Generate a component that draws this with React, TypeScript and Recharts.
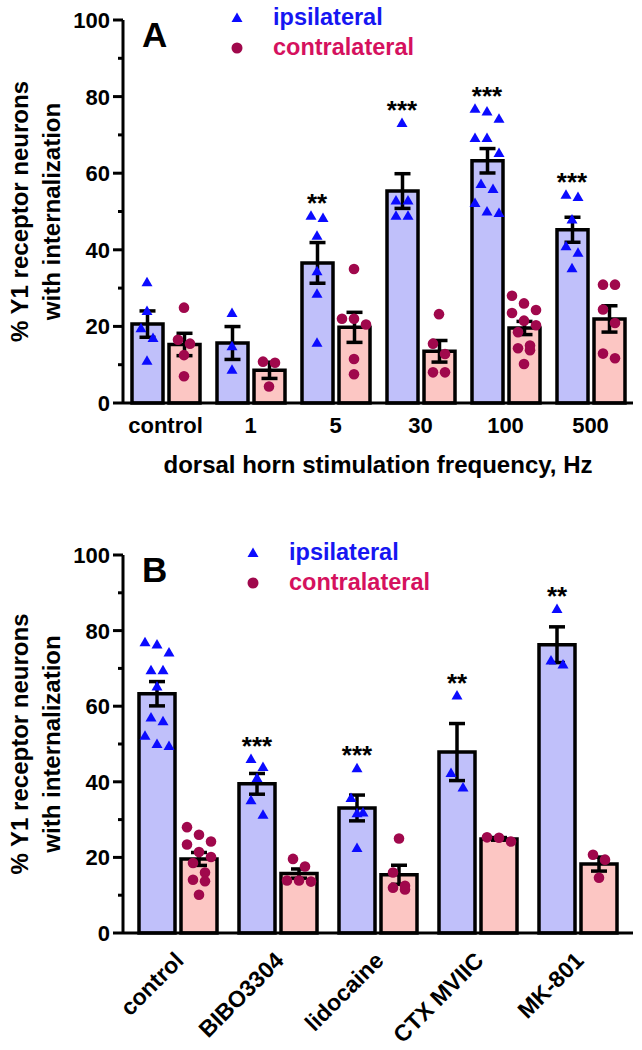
import React from 'react';
import { ComposedChart, Bar, Scatter, XAxis, YAxis, ErrorBar, Customized } from 'recharts';

const FONT = '"Liberation Sans", Arial, Helvetica, sans-serif';
const IPSI_FILL = '#c0c0fa';
const CONTRA_FILL = '#fcc6c3';
const IPSI_MARK = '#0b0bff';
const CONTRA_MARK = '#a0084c';
const IPSI_TEXT = '#1616f2';
const CONTRA_TEXT = '#d5115e';

// panel A: stimulation frequency
const freqLabels = ['control', '1', '5', '30', '100', '500'];
const freqIpsi = [
  [31.5, 24, 19.5, 17, 11],
  [23.5, 14.8, 8.7],
  [48.9, 48.3, 43.7, 34.4, 28.5, 15.7],
  [73.1, 52.9, 52.9, 48.9, 48.9],
  [76.8, 76.1, 74.2, 69.2, 69.2, 65.3, 57.2, 55.9, 52.2, 50, 49.6],
  [54.4, 53.8, 47.9, 40.9, 39.2, 35.2],
];
const freqContra = [
  [24.9, 16.5, 15.5, 12.5, 7],
  [10.8, 10.5, 4.3],
  [35, 22, 22, 20.5, 11.5, 7.5],
  [23.2, 15.5, 12.8, 8, 8],
  [28, 26, 24.3, 23.5, 21.5, 20.3, 18.5, 15, 14.3, 13.8, 10.2],
  [30.9, 30.9, 24.4, 20.9, 12.9, 11.7],
];
const freqStars = ['', '', '**', '***', '***', '***'];

// panel B: drugs
const drugLabels = ['control', 'BIBO3304', 'lidocaine', 'CTX MVIIC', 'MK-801'];
const drugIpsi = [
  [76.9, 76.3, 74.2, 69.5, 69.5, 65.2, 57, 56, 52.2, 50, 49.5],
  [46, 43.9, 41, 35.1, 31.3],
  [43.6, 35.7, 31.9, 31.7, 22.5],
  [62.8, 42.3, 38.5],
  [85.7, 72.1, 71],
];
const drugContra = [
  [28, 26, 24.2, 23.4, 21.4, 20.1, 18.5, 16, 14.1, 13.7, 10.1],
  [19.6, 17.6, 13.9, 13.9, 13.6],
  [25, 16, 12.5, 12, 11.5],
  [25.3, 25.2, 24.2],
  [20.7, 19.4, 14.6],
];
const drugStars = ['', '***', '***', '**', '**'];

const yTicks = [0, 10, 20, 30, 40, 50, 60, 70, 80, 90, 100];

const CHART_W = 642;
const PLOT_LEFT = 123;
const PLOT_RIGHT = 633;
const TOP = 20;

const mean = (a: number[]) => a.reduce((s, v) => s + v, 0) / a.length;
const sem = (a: number[]) => {
  const m = mean(a);
  const sd = Math.sqrt(a.reduce((s, v) => s + (v - m) * (v - m), 0) / (a.length - 1));
  return sd / Math.sqrt(a.length);
};

// spread points with similar values side by side, like Prism's scatter
function swarm(values: number[], center: number, bandPx: number) {
  const spacing = 12;
  const tol = 4;
  const sorted = [...values].sort((a, b) => b - a);
  const out: { x: number; y: number }[] = [];
  let i = 0;
  while (i < sorted.length) {
    let j = i;
    while (j + 1 < sorted.length && sorted[i] - sorted[j + 1] < tol) j++;
    const n = j - i + 1;
    for (let k = 0; k < n; k++) {
      out.push({ x: center + ((k - (n - 1) / 2) * spacing) / bandPx, y: sorted[i + k] });
    }
    i = j + 1;
  }
  return out;
}

const Triangle = (props: any) => {
  const { cx, cy } = props;
  return <polygon points={`${cx},${cy - 5.5} ${cx - 5.5},${cy + 4} ${cx + 5.5},${cy + 4}`} fill={IPSI_MARK} />;
};

const Dot = (props: any) => <circle cx={props.cx} cy={props.cy} r={5.3} fill={CONTRA_MARK} />;

const Stars = (props: any) => (
  <text
    x={props.cx}
    y={props.cy + 14}
    textAnchor="middle"
    fontSize={26}
    fontWeight="bold"
    fontFamily={FONT}
    fill="#000"
  >
    {props.payload.label}
  </text>
);

const YTick = (props: any) => {
  const { x, y, payload } = props;
  const major = payload.value % 20 === 0;
  return (
    <g>
      <line x1={x - (major ? 10 : 5)} x2={x} y1={y} y2={y} stroke="#000" strokeWidth={3} />
      {major && (
        <text x={x - 13} y={y + 8} textAnchor="end" fontSize={22} fontWeight="bold" fontFamily={FONT} fill="#000">
          {payload.value}
        </text>
      )}
    </g>
  );
};

const FlatTick = (props: any) => (
  <text x={props.x} y={props.y + 30} textAnchor="middle" fontSize={22} fontWeight="bold" fontFamily={FONT} fill="#000">
    {props.payload.value}
  </text>
);

const SlantTick = (props: any) => {
  const x = props.x + 7;
  const y = props.y + 29;
  return (
    <text
      x={x}
      y={y}
      textAnchor="end"
      transform={`rotate(-45, ${x}, ${y})`}
      fontSize={23}
      fontWeight="bold"
      fontFamily={FONT}
      fill="#000"
    >
      {props.payload.value}
    </text>
  );
};

interface PanelProps {
  letter: string;
  labels: string[];
  ipsi: number[][];
  contra: number[][];
  stars: string[];
  height: number;
  axisHeight: number;
  barSize: number;
  barGap: number;
  pad: number;
  slanted?: boolean;
  legendX: number;
  xTitle?: string;
}

function Panel({ letter, labels, ipsi, contra, stars, height, axisHeight, barSize, barGap, pad, slanted, legendX, xTitle }: PanelProps) {
  const n = labels.length;
  const band = (PLOT_RIGHT - PLOT_LEFT - pad * 2) / n;
  const shift = (barSize + barGap) / 2 / band;
  const rows = labels.map((name, i) => ({
    name,
    ipsi: mean(ipsi[i]),
    contra: mean(contra[i]),
    ipsiErr: sem(ipsi[i]),
    contraErr: sem(contra[i]),
  }));
  const ipsiPts = ipsi.flatMap((v, i) => swarm(v, i + 0.5 - shift, band));
  const contraPts = contra.flatMap((v, i) => swarm(v, i + 0.5 + shift, band));
  const starPts = stars
    .map((label, i) => ({ x: i + 0.5 - shift, y: Math.max(...ipsi[i]) + 4.7, label }))
    .filter((d) => d.label);
  const plotBottom = height - axisHeight;
  const midY = (TOP + plotBottom) / 2;
  const padding = { left: pad, right: pad };
  const txt = { fontFamily: FONT, fontWeight: 'bold' as const };

  const overlay = (
    <g>
      <text x={142} y={47} fontSize={35} fill="#000" {...txt}>{letter}</text>
      <polygon points={`${legendX},${12.5} ${legendX - 5.5},${22} ${legendX + 5.5},${22}`} fill={IPSI_MARK} />
      <circle cx={legendX} cy={48} r={5.5} fill={CONTRA_MARK} />
      <text x={legendX + 36} y={25} fontSize={23.5} fill={IPSI_TEXT} {...txt}>ipsilateral</text>
      <text x={legendX + 36} y={55} fontSize={23.5} fill={CONTRA_TEXT} {...txt}>contralateral</text>
      <text x={28} y={midY} transform={`rotate(-90, 28, ${midY})`} textAnchor="middle" fontSize={24} fill="#000" {...txt}>
        % Y1 receptor neurons
      </text>
      <text x={60} y={midY} transform={`rotate(-90, 60, ${midY})`} textAnchor="middle" fontSize={24} fill="#000" {...txt}>
        with internalization
      </text>
      {xTitle && (
        <text x={(PLOT_LEFT + PLOT_RIGHT) / 2} y={plotBottom + 70} textAnchor="middle" fontSize={24} fill="#000" {...txt}>
          {xTitle}
        </text>
      )}
    </g>
  );

  return (
    <ComposedChart
      width={CHART_W}
      height={height}
      data={rows}
      barGap={barGap}
      barSize={barSize}
      margin={{ top: TOP, right: CHART_W - PLOT_RIGHT, left: 0, bottom: 0 }}
    >
      <XAxis
        xAxisId="cat"
        dataKey="name"
        height={axisHeight}
        padding={padding}
        axisLine={{ stroke: '#000', strokeWidth: 3 }}
        tickLine={false}
        tickSize={0}
        tickMargin={0}
        interval={0}
        tick={slanted ? <SlantTick /> : <FlatTick />}
      />
      <XAxis xAxisId="err" dataKey="name" hide padding={padding} />
      <XAxis xAxisId="num" type="number" dataKey="x" domain={[0, n]} hide allowDataOverflow padding={padding} />
      <YAxis
        width={PLOT_LEFT}
        domain={[0, 100]}
        ticks={yTicks}
        interval={0}
        axisLine={{ stroke: '#000', strokeWidth: 3 }}
        tickLine={false}
        tickSize={0}
        tickMargin={0}
        tick={<YTick />}
      />
      <Bar xAxisId="cat" dataKey="ipsi" fill={IPSI_FILL} stroke="#000" strokeWidth={3.5} isAnimationActive={false} />
      <Bar xAxisId="cat" dataKey="contra" fill={CONTRA_FILL} stroke="#000" strokeWidth={3.5} isAnimationActive={false} />
      <Scatter xAxisId="num" data={ipsiPts} dataKey="y" shape={<Triangle />} isAnimationActive={false} />
      <Scatter xAxisId="num" data={contraPts} dataKey="y" shape={<Dot />} isAnimationActive={false} />
      <Bar xAxisId="err" dataKey="ipsi" fill="none" isAnimationActive={false}>
        <ErrorBar dataKey="ipsiErr" width={8} strokeWidth={3.5} stroke="#000" direction="y" />
      </Bar>
      <Bar xAxisId="err" dataKey="contra" fill="none" isAnimationActive={false}>
        <ErrorBar dataKey="contraErr" width={8} strokeWidth={3.5} stroke="#000" direction="y" />
      </Bar>
      <Scatter xAxisId="num" data={starPts} dataKey="y" shape={<Stars />} isAnimationActive={false} />
      <Customized component={() => overlay} />
    </ComposedChart>
  );
}

export default function App() {
  return (
    <div style={{ position: 'absolute', left: 0, top: 0, width: 642, height: 1050, background: '#fff' }}>
      <div style={{ position: 'absolute', left: 0, top: 0 }}>
        <Panel
          letter="A"
          labels={freqLabels}
          ipsi={freqIpsi}
          contra={freqContra}
          stars={freqStars}
          height={500}
          axisHeight={97}
          barSize={31}
          barGap={6}
          pad={0}
          legendX={237}
          xTitle="dorsal horn stimulation frequency, Hz"
        />
      </div>
      <div style={{ position: 'absolute', left: 0, top: 535 }}>
        <Panel
          letter="B"
          labels={drugLabels}
          ipsi={drugIpsi}
          contra={drugContra}
          stars={drugStars}
          height={515}
          axisHeight={117}
          barSize={36}
          barGap={6}
          pad={5}
          slanted
          legendX={253}
        />
      </div>
    </div>
  );
}
